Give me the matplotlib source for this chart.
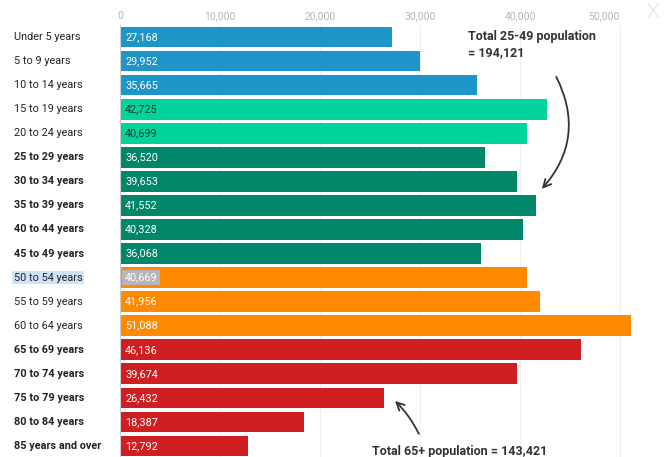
import matplotlib
matplotlib.use("Agg")
import matplotlib.pyplot as plt

plt.rcParams["font.family"] = ["Roboto", "DejaVu Sans"]

age_groups = [
    "Under 5 years", "5 to 9 years", "10 to 14 years", "15 to 19 years",
    "20 to 24 years", "25 to 29 years", "30 to 34 years", "35 to 39 years",
    "40 to 44 years", "45 to 49 years", "50 to 54 years", "55 to 59 years",
    "60 to 64 years", "65 to 69 years", "70 to 74 years", "75 to 79 years",
    "80 to 84 years", "85 years and over",
]
population = [
    27168, 29952, 35665, 42725, 40699, 36520, 39653, 41552, 40328, 36068,
    40669, 41956, 51088, 46136, 39674, 26432, 18387, 12792,
]
group = [
    "child", "child", "child", "young", "young", "prime", "prime", "prime",
    "prime", "prime", "older", "older", "older", "senior", "senior",
    "senior", "senior", "senior",
]
x_ticks = [0, 10000, 20000, 30000, 40000, 50000]

colors = {
    "child": "#1d95c9",
    "young": "#00d39b",
    "prime": "#00876a",
    "older": "#ff8a00",
    "senior": "#cf1f22",
}
bold_groups = ("prime", "senior")

fig = plt.figure(figsize=(6.64, 4.57), dpi=100)
ax = fig.add_axes([120 / 664, -1 / 457, 520 / 664, 433 / 457])

ypos = list(range(len(age_groups)))
ax.barh(ypos, population, height=0.86,
        color=[colors[g] for g in group], zorder=2)

ax.set_xlim(0, 52000)
ax.set_ylim(len(age_groups) - 0.5, -0.5)

# faint vertical grid
for t in x_ticks[1:]:
    ax.axvline(t, color="#eeeeee", lw=0.8, zorder=0)
ax.axvline(0, color="#cccccc", lw=0.8, zorder=3)

for s in ax.spines.values():
    s.set_visible(False)
ax.set_xticks([])
ax.set_yticks([])

# tick labels on top
for t in x_ticks:
    ha = "right" if t == x_ticks[-1] else "center"
    ax.text(t, -0.88, f"{t:,}", ha=ha, va="center", fontsize=7.5,
            color="#b5b5b5")

# category labels
for i, (lab, g) in enumerate(zip(age_groups, group)):
    bbox = None
    if lab == "50 to 54 years":
        bbox = dict(boxstyle="square,pad=0.15", fc="#cfe3f8", ec="none")
    ax.text(-10600, i, lab, ha="left", va="center", fontsize=7.8,
            color="#222222",
            fontweight="bold" if g in bold_groups else "normal",
            bbox=bbox)

# value labels inside bars
for i, (v, g) in enumerate(zip(population, group)):
    tc = "#0c3b2c" if g == "young" else "white"
    bbox = None
    if age_groups[i] == "50 to 54 years":
        bbox = dict(boxstyle="square,pad=0.25", fc="#b9b4b8", ec="none")
    ax.text(500, i, f"{v:,}", ha="left", va="center", fontsize=7.8,
            color=tc, bbox=bbox, zorder=4)

# annotations
ax.text(34800, 0.3, "Total 25-49 population\n= 194,121", ha="left",
        va="center", fontsize=9, fontweight="bold", color="#333333",
        linespacing=1.3)
ax.annotate("", xy=(42000, 6.4), xytext=(43500, 1.55),
            arrowprops=dict(arrowstyle="->", color="#333333", lw=1.3,
                            connectionstyle="arc3,rad=-0.35",
                            mutation_scale=14))

ax.text(25200, 17.22, "Total 65+ population = 143,421", ha="left",
        va="center", fontsize=9, fontweight="bold", color="#333333",
        clip_on=False)
ax.annotate("", xy=(27300, 15.05), xytext=(30000, 16.6),
            arrowprops=dict(arrowstyle="->", color="#333333", lw=1.3,
                            connectionstyle="arc3,rad=0.1",
                            mutation_scale=14))

# close mark in the corner
fig.text(653 / 664, 1 - 13 / 457, "X", ha="center", va="center",
         fontsize=15, fontweight="light", color="#c8c8c8")

fig.savefig("out.png", dpi=100)
